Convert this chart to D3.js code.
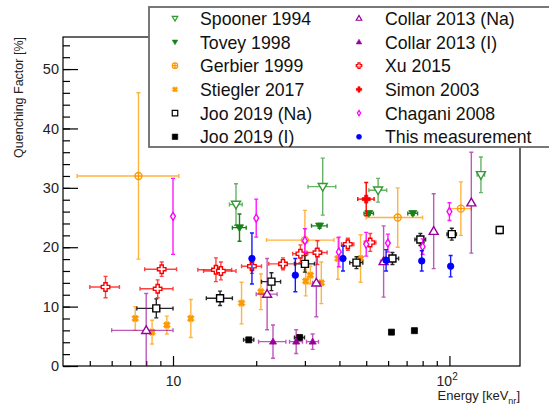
<!DOCTYPE html>
<html lang="en">
<head>
<meta charset="UTF-8">
<title>Quenching factor vs energy</title>
<script src="https://d3js.org/d3.v7.min.js"></script>
<style>
  body { margin: 0; background: #fff; }
  svg { font-family: "Liberation Sans", Arial, Helvetica, sans-serif; }
</style>
</head>
<body>
<div id="chart"></div>
<script>
// each point: [energy keVnr, quenching factor %, energy error, QF error]
const spooner1994 = [[16.9, 27.2, 0.9, 3.5], [34.8, 30.2, 4.0, 4.8], [55.2, 29.6, 4.1, 2.0], [130, 32.2, 4.0, 3.0]];
const tovey1998 = [[17.4, 23.3, 1.0, 2.3], [33.9, 23.6, 2.2, 0.4], [51.1, 25.7, 2.0, 0.3], [73.7, 25.7, 3.0, 0.3]];
const gerbier1999 = [[7.5, 32.0, 3.0, 14.0], [30, 21.2, 8.2, 5.0], [65, 25.0, 15, 5.0], [110, 26.5, 10, 4.5]];
const stiegler2017 = [[7.3, 8.0, 0, 2.0], [8.4, 5.7, 0, 2.0], [9.5, 6.9, 0, 1.5], [11.6, 8.0, 0, 3.2],
                      [17.7, 10.6, 0, 3.5], [20.8, 12.5, 0, 3.0], [30.2, 14.3, 0, 2.5], [31.4, 15.3, 0, 1.5],
                      [34.4, 14.0, 0, 3.5], [39.5, 18.1, 0, 3.5], [47.7, 18.1, 0, 4.0]];
const joo2019Na = [[8.7, 9.7, 1.3, 1.6], [14.8, 11.4, 1.6, 1.2], [22.7, 14.2, 1.8, 1.5], [30.0, 17.2, 2.5, 1.4],
                   [46.1, 17.4, 2.5, 1.0], [62.2, 18.1, 3.3, 1.0], [78.5, 21.3, 3.5, 1.0], [102, 22.2, 4, 1.0],
                   [152, 22.9, 4, 0.6]];
const joo2019I = [[18.8, 4.4, 0.8, 0.3], [28.7, 4.8, 1.2, 0.3], [61.7, 5.7, 0, 0], [74.7, 5.95, 0, 0]];
const collar2013Na = [[8.0, 6.0, 2.0, 6.2], [21.9, 12.1, 1.9, 6.0], [33.0, 14.0, 1.0, 5.7],
                      [57.8, 17.6, 1.5, 6.0], [87.7, 22.7, 0, 6.3], [120, 27.5, 0, 8.5]];
const collar2013I = [[23.0, 4.1, 2.6, 2.8], [27.9, 4.1, 1.5, 2.0], [32.0, 4.1, 1.6, 1.3]];
const xu2015 = [[5.7, 13.3, 0.7, 1.8], [8.8, 13.0, 1.2, 1.5], [9.1, 16.3, 1.2, 1.2], [14.3, 16.2, 2.0, 2.0],
                [14.9, 16.0, 2.0, 1.5], [19.3, 16.8, 1.6, 1.2], [25.0, 17.2, 2.8, 1.0], [28.9, 18.9, 1.8, 1.5],
                [33.3, 19.1, 2.8, 2.0], [42.9, 20.5, 2.2, 1.0], [51.7, 20.8, 2.5, 1.5]];
const simon2003 = [[50, 28.1, 3.4, 2.8]];
const chagani2008 = [[10, 25.2, 0, 6.4], [20, 24.9, 0, 3.2], [30, 21.1, 0, 2.0], [39.8, 19.2, 0, 2.5],
                     [50, 20.5, 0, 2.0], [59.9, 20.7, 0, 1.5], [80, 20.1, 0, 1.3], [100, 26.0, 0, 1.5]];
const thisWork = [[19.3, 18.1, 0, 4.3], [27.7, 15.3, 0, 2.8], [41.2, 18.1, 0, 2.1],
                  [59, 17.8, 0, 1.8], [79.4, 17.7, 0, 1.7], [101, 16.8, 0, 1.8]];

const seriesNames = ["Spooner 1994", "Tovey 1998", "Gerbier 1999", "Stiegler 2017", "Joo 2019 (Na)", "Joo 2019 (I)",
                     "Collar 2013 (Na)", "Collar 2013 (I)", "Xu 2015", "Simon 2003", "Chagani 2008", "This measurement"];
const yTicks = [0, 10, 20, 30, 40, 50];
const yMinorTicks = d3.range(0, 56, 2);
const xMajorTicks = [10, 100];
const xMinorTicks = [5, 6, 7, 8, 9, 20, 30, 40, 50, 60, 70, 80, 90];

const series = [
  {data: spooner1994, color: "#339933", shape: "triDown", open: true, size: 9, ea: 0.75},
  {data: tovey1998, color: "#1a801a", shape: "triDown", open: false, size: 8, ea: 1},
  {data: gerbier1999, color: "#ff9900", shape: "circleCross", open: true, size: 7, ea: 0.75},
  {data: stiegler2017, color: "#ff9900", shape: "xcross", open: false, size: 7, ea: 0.75},
  {data: joo2019Na, color: "#000000", shape: "square", open: true, size: 7, ea: 0.85},
  {data: joo2019I, color: "#000000", shape: "square", open: false, size: 6, ea: 0.85},
  {data: collar2013Na, color: "#990099", shape: "triUp", open: true, size: 9, ea: 0.65},
  {data: collar2013I, color: "#990099", shape: "triUp", open: false, size: 7, ea: 0.65},
  {data: xu2015, color: "#ff0000", shape: "cross", open: true, size: 8.5, ea: 0.75},
  {data: simon2003, color: "#ff0000", shape: "cross", open: false, size: 8, ea: 1},
  {data: chagani2008, color: "#ff00ff", shape: "diamond", open: true, size: 8, ea: 0.9},
  {data: thisWork, color: "#0000ff", shape: "circle", open: false, size: 6.5, ea: 0.9}
];
series.forEach((s, i) => s.name = seriesNames[i]);

const W = 549, H = 405;
const margin = {top: 37, right: 29, bottom: 39, left: 63};
const width = W - margin.left - margin.right,
      height = H - margin.top - margin.bottom;

const svg = d3.select("#chart").append("svg")
    .attr("width", W)
    .attr("height", H);

const g = svg.append("g")
    .attr("transform", `translate(${margin.left},${margin.top})`);

const x = d3.scaleLog().domain([4, 180]).range([0, width]);
const y = d3.scaleLinear().domain([0, 55.4]).range([height, 0]);

g.append("clipPath").attr("id", "clip")
  .append("rect").attr("width", width).attr("height", height);

function shapePath(shape, s) {
  const h = s / 2;
  if (shape == "triDown") return `M${-h},${-h * 0.7}L${h},${-h * 0.7}L0,${h}Z`;
  if (shape == "triUp") return `M${-h},${h * 0.7}L${h},${h * 0.7}L0,${-h}Z`;
  if (shape == "square") return `M${-h},${-h}H${h}V${h}H${-h}Z`;
  if (shape == "diamond") return `M0,${-h}L${h * 0.6},0L0,${h}L${-h * 0.6},0Z`;
  if (shape == "circle") return `M${h},0A${h},${h} 0 1 1 ${-h},0A${h},${h} 0 1 1 ${h},0Z`;
  if (shape == "circleCross") return `M${h},0A${h},${h} 0 1 1 ${-h},0A${h},${h} 0 1 1 ${h},0ZM${-h},0H${h}M0,${-h}V${h}`;
  const a = h * 0.38;
  const pts = [[-a, -h], [a, -h], [a, -a], [h, -a], [h, a], [a, a], [a, h], [-a, h], [-a, a], [-h, a], [-h, -a], [-a, -a]];
  if (shape == "cross") return "M" + pts.map(p => p.join(",")).join("L") + "Z";
  // xcross: plus rotated by 45 degrees
  const c = Math.SQRT1_2;
  return "M" + pts.map(p => [(p[0] - p[1]) * c, (p[0] + p[1]) * c].join(",")).join("L") + "Z";
}

// axes: ticks point inward, like the original
const yMinor = g.append("g").call(d3.axisLeft(y).tickValues(yMinorTicks).tickSize(-7).tickFormat(""));
const yAxis = g.append("g").call(d3.axisLeft(y).tickValues(yTicks).tickSize(-15).tickPadding(4).tickFormat(d3.format("d")));
const xMinor = g.append("g").attr("transform", `translate(0,${height})`)
  .call(d3.axisBottom(x).tickValues(xMinorTicks).tickSize(-5).tickFormat(""));
const xAxis = g.append("g").attr("transform", `translate(0,${height})`)
  .call(d3.axisBottom(x).tickValues(xMajorTicks).tickSize(-10).tickPadding(10).tickFormat(d => "10"));
[yMinor, yAxis, xMinor, xAxis].forEach(a => {
  a.select(".domain").remove();
  a.selectAll("line").attr("stroke", "#000").attr("stroke-width", 1.2);
});
yAxis.selectAll("text").attr("font-size", 14.5).attr("fill", "#222").attr("font-family", null);
xAxis.selectAll("text").attr("font-size", 14).attr("fill", "#222").attr("font-family", null)
  .filter(d => d == 100)
  .attr("dx", "-0.2em")
  .append("tspan").attr("font-size", 10).attr("dy", "-0.55em").text("2");

// frame
g.append("rect")
  .attr("width", width).attr("height", height)
  .attr("fill", "none").attr("stroke", "#000").attr("stroke-width", 1.2);

// data
const plot = g.append("g").attr("clip-path", "url(#clip)");
series.forEach(s => {
  const sg = plot.append("g");
  const eg = sg.append("g").attr("stroke", s.color).attr("stroke-opacity", s.ea).attr("stroke-width", 1.4).attr("fill", "none");
  s.data.forEach(d => {
    const [e, q, de, dq] = d;
    const cx = x(e), cy = y(q);
    if (de > 0) {
      const x0 = x(e - de), x1 = x(e + de);
      eg.append("path").attr("d", `M${x0},${cy}H${x1}M${x0},${cy - 2}V${cy + 2}M${x1},${cy - 2}V${cy + 2}`);
    }
    if (dq > 0) {
      const y0 = y(q - dq), y1 = y(q + dq);
      eg.append("path").attr("d", `M${cx},${y0}V${y1}M${cx - 2},${y0}H${cx + 2}M${cx - 2},${y1}H${cx + 2}`);
    }
  });
  sg.selectAll(".mk")
    .data(s.data)
    .join("path")
      .attr("class", "mk")
      .attr("transform", d => `translate(${x(d[0])},${y(d[1])})`)
      .attr("d", shapePath(s.shape, s.size))
      .attr("fill", s.open ? "#fff" : s.color)
      .attr("stroke", s.color)
      .attr("stroke-width", s.open ? 1.4 : 0.8);
});

// axis titles
svg.append("text")
  .attr("transform", "translate(23,37) rotate(-90)")
  .attr("text-anchor", "end")
  .attr("font-size", 12.5)
  .attr("fill", "#222")
  .text("Quenching Factor [%]");

const xt = svg.append("text")
  .attr("x", 520).attr("y", 400)
  .attr("text-anchor", "end")
  .attr("font-size", 13)
  .attr("fill", "#222");
xt.append("tspan").text("Energy [keV");
xt.append("tspan").attr("font-size", 9).attr("dy", 3.5).text("nr");
xt.append("tspan").attr("dy", -3.5).text("]");

// legend
const leg = svg.append("g");
leg.append("rect")
  .attr("x", 149).attr("y", 7).attr("width", 420).attr("height", 140)
  .attr("fill", "#fff").attr("stroke", "#6a6a6a").attr("stroke-width", 1.8);
series.forEach((s, i) => {
  const col = Math.floor(i / 6), row = i % 6;
  const mx = col == 0 ? 175 : 359, tx = col == 0 ? 200 : 385;
  const cy = 18.3 + row * 23.7;
  leg.append("path")
    .attr("transform", `translate(${mx},${cy})`)
    .attr("d", shapePath(s.shape, s.shape == "circle" ? 5 : 5.5))
    .attr("fill", s.open ? "#fff" : s.color)
    .attr("stroke", s.color)
    .attr("stroke-width", s.open ? 1.2 : 0.6);
  leg.append("text")
    .attr("x", tx).attr("y", cy + 6.5)
    .attr("font-size", 17.7)
    .attr("fill", "#111")
    .text(s.name);
});
</script>
</body>
</html>
